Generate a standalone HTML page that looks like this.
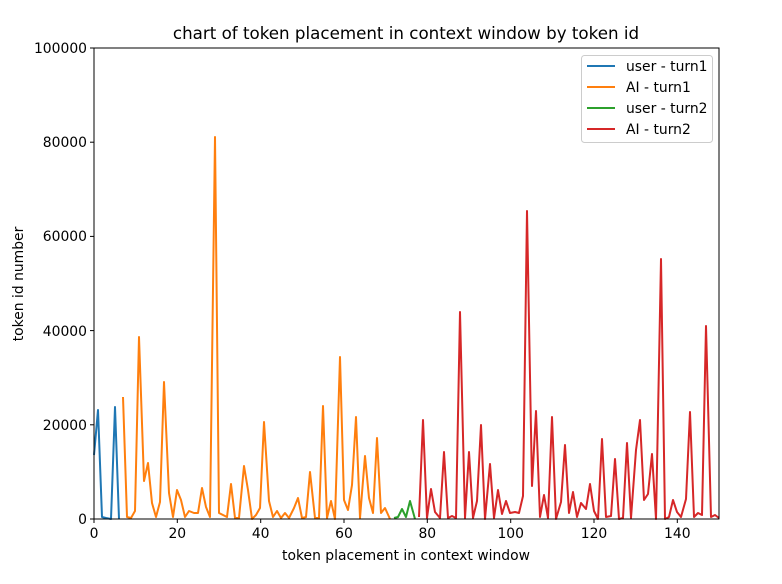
<!DOCTYPE html>
<html><head><style>body{margin:0;background:#fff}svg{display:block;font-family:"DejaVu Sans","Liberation Sans",sans-serif}</style></head><body>
<svg width="782" height="584" viewBox="0 0 782 584">
<rect width="782" height="584" fill="#fff"/>
<g fill="none" stroke-width="2" stroke-linejoin="round">
<polyline stroke="#1f77b4" points="94,455 98,410 102,517 106,518 111,519 115,407 119,519"/>
<polyline stroke="#ff7f0e" points="123,397 127,517 131,518 135,511 139,337 144,481 148,463 152,503 156,517 160,502 164,382 169,493 173,517 177,490 181,500 185,517 189,511 194,513 198,513 202,488 206,507 210,517 215,137 219,513 223,515 227,517 231,484 235,518 239,518 244,466 248,490 252,519 256,515 260,508 264,422 269,501 273,517 277,511 281,518 285,513 289,518 294,508 298,498 302,518 306,517 310,472 315,518 319,518 323,406 327,518 331,501 335,519 340,357 344,500 348,510 352,485 356,417 360,518 365,456 369,498 373,513 377,438 381,513 385,508 390,519"/>
<polyline stroke="#2ca02c" points="394,518 398,517 402,509 406,517 410,501 415,519"/>
<polyline stroke="#d62728" points="419,517 423,420 427,518 431,489 435,512 440,518 444,452 448,518 452,516 456,518 460,312 465,518 469,452 473,518 477,501 481,425 485,519 490,464 494,518 498,490 502,514 506,501 510,513 515,512 519,513 523,496 527,211 532,486 536,411 540,517 544,495 548,518 552,417 556,519 561,502 565,445 569,513 573,492 577,517 581,503 586,509 590,484 594,511 598,519 602,439 606,517 611,516 615,459 619,519 623,518 627,443 631,518 636,450 640,420 644,500 648,494 652,454 656,519 661,259 665,519 669,517 673,500 677,512 681,517 686,499 690,412 694,517 698,513 702,515 706,326 711,517 715,515 719,518"/>
</g>
<rect x="94" y="48" width="625" height="471" fill="none" stroke="#000" stroke-width="1"/>
<g stroke="#000" stroke-width="1">
<line x1="94" y1="519" x2="94" y2="523"/><line x1="177.3" y1="519" x2="177.3" y2="523"/><line x1="260.7" y1="519" x2="260.7" y2="523"/><line x1="344" y1="519" x2="344" y2="523"/><line x1="427.3" y1="519" x2="427.3" y2="523"/><line x1="510.7" y1="519" x2="510.7" y2="523"/><line x1="594" y1="519" x2="594" y2="523"/><line x1="677.3" y1="519" x2="677.3" y2="523"/>
<line x1="90" y1="519" x2="94" y2="519"/><line x1="90" y1="424.8" x2="94" y2="424.8"/><line x1="90" y1="330.6" x2="94" y2="330.6"/><line x1="90" y1="236.4" x2="94" y2="236.4"/><line x1="90" y1="142.2" x2="94" y2="142.2"/><line x1="90" y1="48" x2="94" y2="48"/>
</g>
<g font-size="13.9" text-anchor="middle" fill="#000">
<text x="94" y="538">0</text><text x="177.3" y="538">20</text><text x="260.7" y="538">40</text><text x="344" y="538">60</text><text x="427.3" y="538">80</text><text x="510.7" y="538">100</text><text x="594" y="538">120</text><text x="677.3" y="538">140</text>
</g>
<g font-size="13.9" text-anchor="end" fill="#000">
<text x="87" y="524">0</text><text x="87" y="430">20000</text><text x="87" y="336">40000</text><text x="87" y="241">60000</text><text x="87" y="147">80000</text><text x="87" y="53">100000</text>
</g>
<text x="406" y="560" font-size="13.9" text-anchor="middle">token placement in context window</text>
<text transform="translate(23,284) rotate(-90)" font-size="13.9" text-anchor="middle">token id number</text>
<text x="406" y="39" font-size="16.7" text-anchor="middle">chart of token placement in context window by token id</text>
<rect x="581.5" y="55.5" width="131" height="87" rx="3" fill="#fff" stroke="#ccc"/>
<g stroke-width="2"><line x1="587" y1="66" x2="615" y2="66" stroke="#1f77b4"/><line x1="587" y1="87" x2="615" y2="87" stroke="#ff7f0e"/><line x1="587" y1="108" x2="615" y2="108" stroke="#2ca02c"/><line x1="587" y1="129" x2="615" y2="129" stroke="#d62728"/></g>
<g font-size="13.9"><text x="626" y="71">user - turn1</text><text x="626" y="92">AI - turn1</text><text x="626" y="113">user - turn2</text><text x="626" y="134">AI - turn2</text></g>
</svg>
</body></html>
